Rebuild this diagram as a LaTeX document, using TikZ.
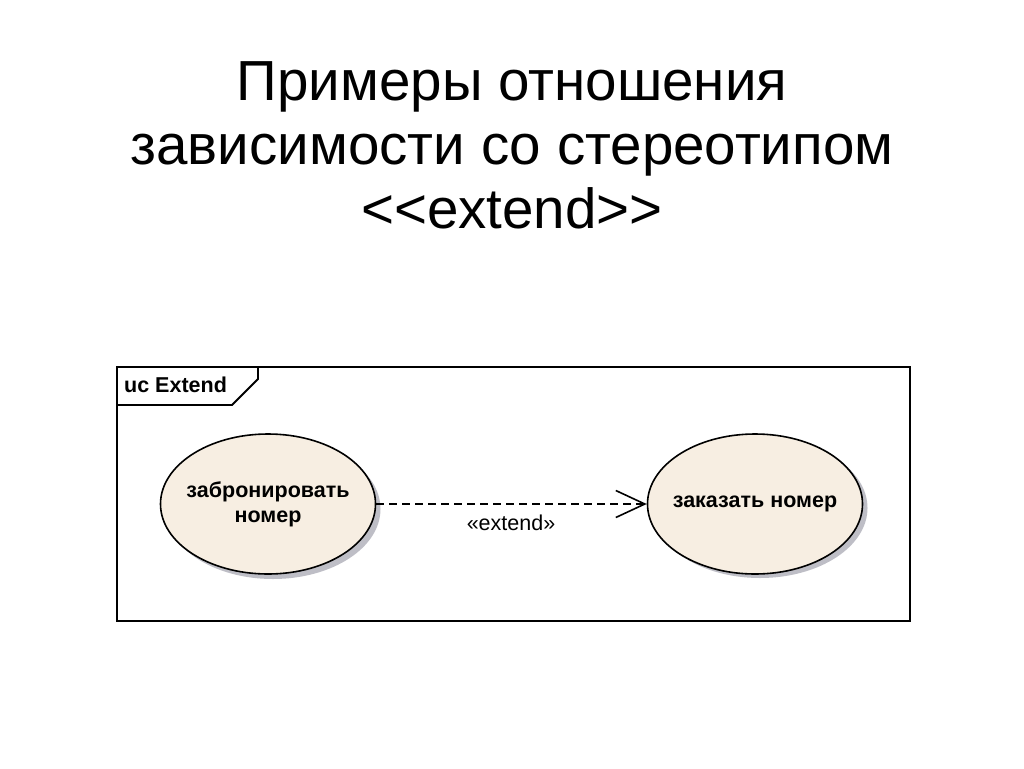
\documentclass[tikz,border=0pt]{standalone}
\usepackage{fontspec}
\setmainfont{Liberation Sans}
\usetikzlibrary{arrows.meta,shapes.geometric}

\definecolor{casefill}{RGB}{247,238,226}
\definecolor{caseshadow}{RGB}{190,190,198}

\tikzset{
    usecase/.style={ellipse, draw=black, line width=1.6pt, fill=casefill, minimum width=215pt, minimum height=140pt, inner sep=0pt},
    casetext/.style={align=center, inner sep=0pt, font=\fontsize{21.5}{25}\selectfont\bfseries},
    caseshade/.style={ellipse, fill=caseshadow, minimum width=215pt, minimum height=140pt, inner sep=0pt},
    extendline/.style={line width=1.3pt, dash pattern=on 8pt off 5pt, -{Straight Barb[length=29pt,width=27pt,line width=1.6pt]}},
    titleline/.style={font=\fontsize{56.5}{64}\selectfont, anchor=base, inner sep=0pt}
}

\begin{document}
\begin{tikzpicture}[x=1pt,y=-1pt]

\useasboundingbox[fill=white] (0,0) rectangle (1024,768);

% title
\node[titleline] (title1) at (512,100) {Примеры отношения};
\node[titleline] (title2) at (512,164) {зависимости со стереотипом};
\node[titleline] (title3) at (512,228) {{<}{<}extend{>}{>}};

% frame
\draw[line width=1.8pt] (117,367) rectangle (910,621);
\draw[line width=1.8pt] (117,405) -- (232,405) -- (258,379) -- (258,367);
\node[font=\fontsize{21.5}{25}\selectfont\bfseries, anchor=base west, inner sep=0pt] (frametitle) at (124,392) {uc Extend};

% use cases
\node[caseshade] (bookshade) at (273,509) {};
\node[caseshade] (ordershade) at (760,508) {};
\node[usecase, label={[casetext]center:{забронировать\\номер}}] (book) at (268,504) {};
\node[usecase, label={[casetext]center:{заказать номер}}] (order) at (755,504) {};

% extend
\draw[extendline] (book.east) -- (order.west);
\node[font=\fontsize{21.5}{25}\selectfont, anchor=base, inner sep=0pt] (extlabel) at (511,530) {«extend»};

\end{tikzpicture}
\end{document}
